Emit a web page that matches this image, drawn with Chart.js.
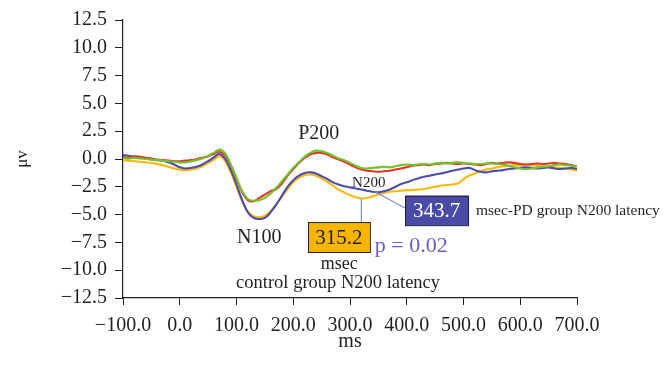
<!DOCTYPE html>
<html>
<head>
<meta charset="utf-8">
<script src="https://cdn.jsdelivr.net/npm/chart.js@4"></script>
<style>
  html, body { margin: 0; padding: 0; background: #fff; }
  #wrap { width: 664px; height: 377px; }
</style>
</head>
<body>
<div id="wrap"><canvas id="erp" width="664" height="377"></canvas></div>
<script>
// waktu sampel (ms)
const times = [
  -100, -90, -80, -70, -60, -50, -40, -30, -20, -10,
  0, 10, 20, 30, 40, 50, 60, 70, 80, 90,
  100, 110, 120, 130, 140, 150, 160, 170, 180, 190,
  200, 210, 220, 230, 240, 250, 260, 270, 280, 290,
  300, 310, 320, 330, 340, 350, 360, 370, 380, 390,
  400, 410, 420, 430, 440, 450, 460, 470, 480, 490,
  500, 510, 520, 530, 540, 550, 560, 570, 580, 590,
  600, 610, 620, 630, 640, 650, 660, 670, 680, 690, 700,
];

const greenWave = [
  0.1, 0.05, 0.1, 0.05, 0.0, -0.05, -0.1, -0.15, -0.2, -0.25,
  -0.3, -0.3, -0.2, -0.1, 0.05, 0.3, 0.55, 0.85, 0.5, -0.5,
  -1.7, -2.9, -3.6, -3.75, -3.7, -3.5, -3.1, -2.6, -2.0, -1.4,
  -0.8, -0.3, 0.2, 0.55, 0.75, 0.7, 0.55, 0.3, 0.05, -0.1,
  -0.35, -0.6, -0.8, -0.85, -0.8, -0.75, -0.7, -0.75, -0.65, -0.55,
  -0.5, -0.55, -0.5, -0.45, -0.5, -0.4, -0.35, -0.4, -0.35, -0.3,
  -0.35, -0.4, -0.45, -0.45, -0.4, -0.4, -0.45, -0.5, -0.6, -0.75,
  -0.85, -0.9, -0.85, -0.75, -0.7, -0.65, -0.55, -0.5, -0.55, -0.6, -0.7,
];

const redWave = [
  0.2, 0.15, 0.25, 0.2, 0.1, 0.05, -0.05, -0.1, -0.15, -0.2,
  -0.2, -0.15, -0.1, 0.0, 0.1, 0.25, 0.45, 0.65, 0.3, -0.6,
  -1.8, -3.0, -3.7, -3.8, -3.5, -3.2, -2.9, -2.7, -2.2, -1.5,
  -0.9, -0.35, 0.1, 0.4, 0.55, 0.55, 0.4, 0.15, -0.05, -0.25,
  -0.5, -0.75, -0.95, -1.05, -1.1, -1.15, -1.1, -1.05, -0.95, -0.85,
  -0.75, -0.6, -0.55, -0.5, -0.55, -0.45, -0.4, -0.35, -0.4, -0.45,
  -0.4, -0.45, -0.5, -0.55, -0.45, -0.35, -0.4, -0.35, -0.3, -0.35,
  -0.45, -0.5, -0.45, -0.4, -0.45, -0.4, -0.35, -0.4, -0.45, -0.55, -0.65,
];

const blueWave = [
  0.35, 0.3, 0.2, 0.15, 0.05, -0.05, -0.1, -0.15, -0.3, -0.5,
  -0.75, -0.85, -0.8, -0.7, -0.5, -0.2, 0.15, 0.45, 0.0, -1.0,
  -2.3, -3.7, -4.8, -5.3, -5.4, -5.3, -4.8, -4.1, -3.3, -2.5,
  -1.9, -1.5, -1.25, -1.2, -1.3, -1.55, -1.8, -2.1, -2.3, -2.45,
  -2.55, -2.65, -2.75, -2.85, -2.95, -3.0, -2.9, -2.75, -2.5, -2.25,
  -2.1, -1.9, -1.75, -1.6, -1.5, -1.4, -1.3, -1.2, -1.05, -0.95,
  -0.85, -0.8, -1.0, -1.15, -1.2, -1.1, -1.05, -1.0, -0.9, -0.85,
  -0.8, -0.75, -0.8, -0.85, -0.8, -0.75, -0.85, -0.9, -0.85, -0.8, -0.9,
];

const yellowWave = [
  -0.1, -0.15, -0.2, -0.25, -0.3, -0.35, -0.45, -0.55, -0.7, -0.85,
  -0.95, -1.0, -0.95, -0.85, -0.65, -0.35, -0.05, 0.25, -0.2, -1.2,
  -2.5, -3.8, -4.7, -5.15, -5.25, -5.1, -4.7, -4.1, -3.4, -2.7,
  -2.1, -1.7, -1.45, -1.4, -1.5, -1.75, -2.05, -2.4, -2.75, -3.0,
  -3.25, -3.45, -3.55, -3.5, -3.35, -3.2, -3.05, -2.95, -2.9, -2.85,
  -2.8, -2.8, -2.75, -2.7, -2.6, -2.5, -2.4, -2.35, -2.3, -2.2,
  -1.8, -1.5, -1.3, -1.1, -0.95, -0.85, -0.75, -0.65, -0.6, -0.55,
  -0.55, -0.5, -0.55, -0.6, -0.65, -0.7, -0.75, -0.8, -0.85, -0.95, -1.05,
];

const xTicks = [-100, 0, 100, 200, 300, 400, 500, 600, 700];
const yTicks = [12.5, 10.0, 7.5, 5.0, 2.5, 0.0, -2.5, -5.0, -7.5, -10.0, -12.5];

// latensi N200 (ms)
const pdLatency = 343.7;
const controlLatency = 315.2;
const pValue = "p = 0.02";

const serif = "'Liberation Serif', 'Times New Roman', serif";
const ink = "#231f20";

function toPoints(values) {
  return times.map((t, i) => ({ x: t, y: values[i] }));
}

function fmt(v) {
  return v.toFixed(1).replace("-", "\u2212");
}

// label-label anotasi di atas grafik
const annotationPlugin = {
  id: "erpLabels",
  afterDatasetsDraw(chart) {
    const { ctx } = chart;
    const sx = chart.scales.x;
    const sy = chart.scales.y;
    const px = (v) => sx.getPixelForValue(v);
    const py = (v) => sy.getPixelForValue(v);

    ctx.save();
    ctx.textAlign = "center";
    ctx.textBaseline = "middle";

    // garis penghubung
    ctx.strokeStyle = "#7b93d4";
    ctx.lineWidth = 1.2;
    ctx.beginPath();
    ctx.moveTo(px(320), py(-3.6));
    ctx.lineTo(px(320), py(-5.67));
    ctx.moveTo(px(pdLatency), py(-2.95));
    ctx.lineTo(px(397), py(-4.4));
    ctx.stroke();

    ctx.fillStyle = ink;
    ctx.font = "20px " + serif;
    ctx.fillText("P200", px(245), py(2.25));
    ctx.fillText("N100", px(140), py(-7.1));
    ctx.font = "15px " + serif;
    ctx.fillText("N200", px(333), py(-2.16));

    // kotak kuning (kontrol)
    const yl = px(226), yr = px(335), yt = py(-5.67), yb = py(-8.36);
    ctx.fillStyle = "#f7b500";
    ctx.fillRect(yl, yt, yr - yl, yb - yt);
    ctx.strokeStyle = "#222";
    ctx.lineWidth = 1;
    ctx.strokeRect(yl + 0.5, yt + 0.5, yr - yl, yb - yt);
    ctx.fillStyle = ink;
    ctx.font = "21px " + serif;
    ctx.fillText(controlLatency.toFixed(1), (yl + yr) / 2, (yt + yb) / 2 + 1);

    // kotak biru (PD)
    const bl = px(397), br = px(508), bt = py(-3.3), bb = py(-5.95);
    ctx.fillStyle = "#4a4ba6";
    ctx.fillRect(bl, bt, br - bl, bb - bt);
    ctx.strokeStyle = "#1a1a2e";
    ctx.strokeRect(bl + 0.5, bt + 0.5, br - bl, bb - bt);
    ctx.fillStyle = "#ffffff";
    ctx.font = "21px " + serif;
    ctx.fillText(pdLatency.toFixed(1), (bl + br) / 2, (bt + bb) / 2 + 1);

    ctx.fillStyle = ink;
    ctx.font = "15.5px " + serif;
    ctx.textAlign = "left";
    ctx.fillText("msec-PD group N200 latency", px(522), py(-4.68));

    ctx.textAlign = "center";
    ctx.fillStyle = "#6a5ec2";
    ctx.font = "22px " + serif;
    ctx.fillText(pValue, px(408), py(-7.8));

    ctx.fillStyle = ink;
    ctx.font = "18px " + serif;
    ctx.fillText("msec", px(281), py(-9.5));
    ctx.font = "18.5px " + serif;
    ctx.fillText("control group N200 latency", px(279), py(-11.2));

    ctx.restore();
  },
};

function initErpChart() {
  const canvas = document.getElementById("erp");
  if (!canvas) return;

  const series = [
    { data: greenWave, color: "#72c12c" },
    { data: redWave, color: "#e2362b" },
    { data: blueWave, color: "#4b4db0" },
    { data: yellowWave, color: "#f9b90a" },
  ];

  const config = {
    type: "line",
    data: {
      datasets: series.map((s) => ({
        data: toPoints(s.data),
        borderColor: s.color,
        borderWidth: 2.1,
        pointRadius: 0,
        tension: 0.35,
        fill: false,
      })),
    },
    options: {
      responsive: false,
      animation: false,
      devicePixelRatio: 1,
      layout: { padding: { top: 20, right: 87, left: 0, bottom: 0 } },
      plugins: {
        legend: { display: false },
        tooltip: { enabled: false },
      },
      scales: {
        x: {
          type: "linear",
          min: -100,
          max: 700,
          afterBuildTicks: (scale) => {
            scale.ticks = xTicks.map((v) => ({ value: v }));
          },
          afterFit: (scale) => {
            scale.height = 79;
          },
          ticks: {
            color: ink,
            font: { family: serif, size: 20 },
            padding: 9,
            maxRotation: 0,
            autoSkip: false,
            callback: (v) => fmt(v),
          },
          grid: {
            drawOnChartArea: false,
            drawTicks: true,
            tickLength: 7,
            color: ink,
          },
          border: { display: true, color: ink, width: 1.2 },
          title: {
            display: true,
            text: "ms",
            color: ink,
            font: { family: serif, size: 20 },
            padding: { top: 0, bottom: 23 },
          },
        },
        y: {
          type: "linear",
          min: -12.5,
          max: 12.5,
          afterBuildTicks: (scale) => {
            scale.ticks = yTicks.map((v) => ({ value: v }));
          },
          afterFit: (scale) => {
            scale.width = 123;
          },
          ticks: {
            color: ink,
            font: { family: serif, size: 20 },
            padding: 8,
            callback: (v) => fmt(v),
          },
          grid: {
            drawOnChartArea: false,
            drawTicks: true,
            tickLength: 8,
            color: ink,
          },
          border: { display: true, color: ink, width: 1.2 },
          title: {
            display: true,
            text: "\u03bcv",
            color: ink,
            font: { family: serif, size: 17 },
            padding: { top: 12, bottom: 0 },
          },
        },
      },
    },
    plugins: [annotationPlugin],
  };

  canvas.chart = new Chart(canvas, config);
}

document.addEventListener("DOMContentLoaded", initErpChart);
</script>
</body>
</html>
